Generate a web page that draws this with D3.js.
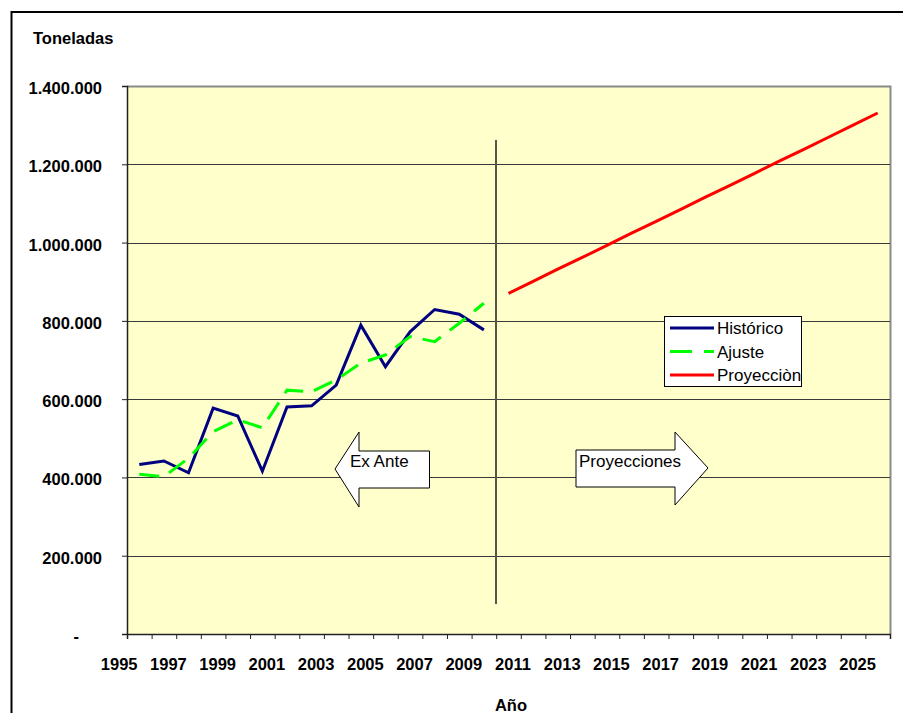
<!DOCTYPE html>
<html>
<head>
<meta charset="utf-8">
<script src="https://cdn.jsdelivr.net/npm/d3@7"></script>
<style>
    body { margin: 0; background: #fff; }
    svg { display: block; font-family: "Liberation Sans", Arial, sans-serif; }
    .lbl { font-size: 16.5px; font-weight: bold; fill: #000; }
    .legend text, .note { font-size: 17px; fill: #000; }
</style>
</head>
<body>
<svg id="chart" width="903" height="713"></svg>
<script>
(function () {
    // historical years and values (toneladas)
    const histYears = [1996, 1997, 1998, 1999, 2000, 2001, 2002, 2003, 2004, 2005, 2006, 2007, 2008, 2009, 2010];
    const historico = [433000, 442000, 412000, 577000, 557000, 416000, 580000, 583000, 636000, 789000, 683000, 772000, 829000, 817000, 777000];
    const ajuste = [408000, 402000, 449000, 517000, 547000, 527000, 623000, 619000, 649000, 692000, 713000, 760000, 747000, 794000, 845000];

    const projYears = [2011, 2012, 2013, 2014, 2015, 2016, 2017, 2018, 2019, 2020, 2021, 2022, 2023, 2024, 2025, 2026];
    const proyeccion = [870000, 901000, 932000, 962000, 993000, 1024000, 1054000, 1085000, 1116000, 1146000, 1177000, 1208000, 1238000, 1269000, 1300000, 1331000];

    const yTicks = [0, 200000, 400000, 600000, 800000, 1000000, 1200000, 1400000];
    const xLabels = [1995, 1997, 1999, 2001, 2003, 2005, 2007, 2009, 2011, 2013, 2015, 2017, 2019, 2021, 2023, 2025];

    const COLORS = {
        historico: "#000080",
        ajuste: "#00ff00",
        proyeccion: "#ff0000",
        plotBg: "#ffffcc",
        grid: "#3a3a3a"
    };

    const svg = d3.select("#chart");
    const plot = { left: 127, top: 86, right: 890, bottom: 634 };

    const x = d3.scaleLinear().domain([1995.5, 2026.5]).range([plot.left, plot.right]);
    const y = d3.scaleLinear().domain([0, 1400000]).range([plot.bottom, plot.top]);

    // outer chart frame (left + top visible)
    svg.append("path")
        .attr("d", "M11.5,713 L11.5,12 L903,12")
        .attr("fill", "none")
        .attr("stroke", "#000")
        .attr("stroke-width", 2);

    // plot area
    svg.append("rect")
        .attr("x", plot.left).attr("y", plot.top)
        .attr("width", plot.right - plot.left).attr("height", plot.bottom - plot.top)
        .attr("fill", COLORS.plotBg);

    svg.append("path")
        .attr("d", `M${plot.left},${plot.top + 0.5} L${plot.right + 0.5},${plot.top + 0.5} L${plot.right + 0.5},${plot.bottom}`)
        .attr("fill", "none")
        .attr("stroke", "#8a8a8a")
        .attr("stroke-width", 2);

    // gridlines
    svg.append("g")
        .selectAll("line")
        .data(yTicks.filter(d => d > 0 && d < 1400000))
        .enter().append("line")
        .attr("x1", plot.left).attr("x2", plot.right)
        .attr("y1", d => Math.round(y(d)) + 0.5).attr("y2", d => Math.round(y(d)) + 0.5)
        .attr("stroke", COLORS.grid)
        .attr("stroke-width", 1.2);

    // y axis
    const fmt = d => d === 0 ? "-" : d3.format(",")(d).replace(/,/g, ".");
    const yAxis = svg.append("g")
        .attr("transform", `translate(${plot.left},0)`)
        .call(d3.axisLeft(y).tickValues(yTicks).tickFormat(fmt).tickSize(5).tickPadding(20));
    yAxis.select(".domain").attr("stroke", "#222").attr("stroke-width", 1.5);
    yAxis.selectAll(".tick line").attr("stroke", "#222");
    yAxis.selectAll(".tick text")
        .attr("class", "lbl")
        .attr("font-family", null).attr("font-size", null)
        .attr("dy", "0.45em")
        .attr("dx", d => d === 0 ? -23 : 0);

    // x axis tick marks on category boundaries
    const tickYears = d3.range(1995.5, 2027, 1);
    const xAxis = svg.append("g")
        .attr("transform", `translate(0,${plot.bottom})`)
        .call(d3.axisBottom(x).tickValues(tickYears).tickSize(5).tickFormat(""));
    xAxis.select(".domain").attr("stroke", "#222").attr("stroke-width", 1.5);
    xAxis.selectAll(".tick line").attr("stroke", "#222");

    // x labels
    const xLab = svg.append("g")
        .attr("transform", `translate(0,${plot.bottom})`)
        .call(d3.axisBottom(x).tickValues(xLabels).tickSize(0).tickPadding(0).tickFormat(d3.format("d")));
    xLab.select(".domain").remove();
    xLab.selectAll(".tick text")
        .attr("class", "lbl")
        .attr("font-family", null).attr("font-size", null)
        .attr("dy", null)
        .attr("y", 36)
        .attr("dx", 4);

    // axis titles
    svg.append("text").attr("class", "lbl").attr("x", 33).attr("y", 44).text("Toneladas");
    svg.append("text").attr("class", "lbl").attr("x", 511).attr("y", 711)
        .attr("text-anchor", "middle").text("Año");

    // separator between history and projection
    svg.append("line")
        .attr("x1", 496).attr("x2", 496)
        .attr("y1", 140).attr("y2", 604)
        .attr("stroke", "#555548")
        .attr("stroke-width", 2);

    // arrows
    function arrow(points, label, tx, ty) {
        const g = svg.append("g");
        g.append("polygon")
            .attr("points", points.map(p => p.join(",")).join(" "))
            .attr("fill", "#fff")
            .attr("stroke", "#000")
            .attr("stroke-width", 1);
        g.append("text").attr("class", "note").attr("x", tx).attr("y", ty).text(label);
    }
    arrow([[335, 469], [359, 432], [359, 451], [429.5, 451], [429.5, 488], [359, 488], [359, 507]], "Ex Ante", 350, 467);
    arrow([[576, 450], [675, 450], [675, 432], [708, 468], [675, 505], [675, 487], [576, 487]], "Proyecciones", 579, 467);

    // series
    const line = d3.line().x(d => x(d[0])).y(d => y(d[1]));

    svg.append("path")
        .datum(histYears.map((yr, i) => [yr, historico[i]]))
        .attr("d", line)
        .attr("fill", "none")
        .attr("stroke", COLORS.historico)
        .attr("stroke-width", 3);

    svg.append("path")
        .datum(histYears.map((yr, i) => [yr, ajuste[i]]))
        .attr("d", line)
        .attr("fill", "none")
        .attr("stroke", COLORS.ajuste)
        .attr("stroke-width", 3)
        .attr("stroke-dasharray", "20,11");

    svg.append("path")
        .datum(projYears.map((yr, i) => [yr, proyeccion[i]]))
        .attr("d", line)
        .attr("fill", "none")
        .attr("stroke", COLORS.proyeccion)
        .attr("stroke-width", 3);

    // legend
    const legend = svg.append("g").attr("class", "legend");
    legend.append("rect")
        .attr("x", 664.5).attr("y", 316.5)
        .attr("width", 137).attr("height", 70)
        .attr("fill", "#fff")
        .attr("stroke", "#000")
        .attr("stroke-width", 1);

    const items = [
        { label: "Histórico", color: COLORS.historico, dash: null },
        { label: "Ajuste", color: COLORS.ajuste, dash: "22,12" },
        { label: "Proyecciòn", color: COLORS.proyeccion, dash: null }
    ];
    const row = legend.selectAll("g.item")
        .data(items)
        .enter().append("g")
        .attr("class", "item")
        .attr("transform", (d, i) => `translate(0,${328 + i * 23.5})`);
    row.append("line")
        .attr("x1", 670).attr("x2", 714)
        .attr("stroke", d => d.color)
        .attr("stroke-width", 3)
        .attr("stroke-dasharray", d => d.dash);
    row.append("text")
        .attr("x", 717).attr("y", 6)
        .text(d => d.label);
})();
</script>
</body>
</html>
